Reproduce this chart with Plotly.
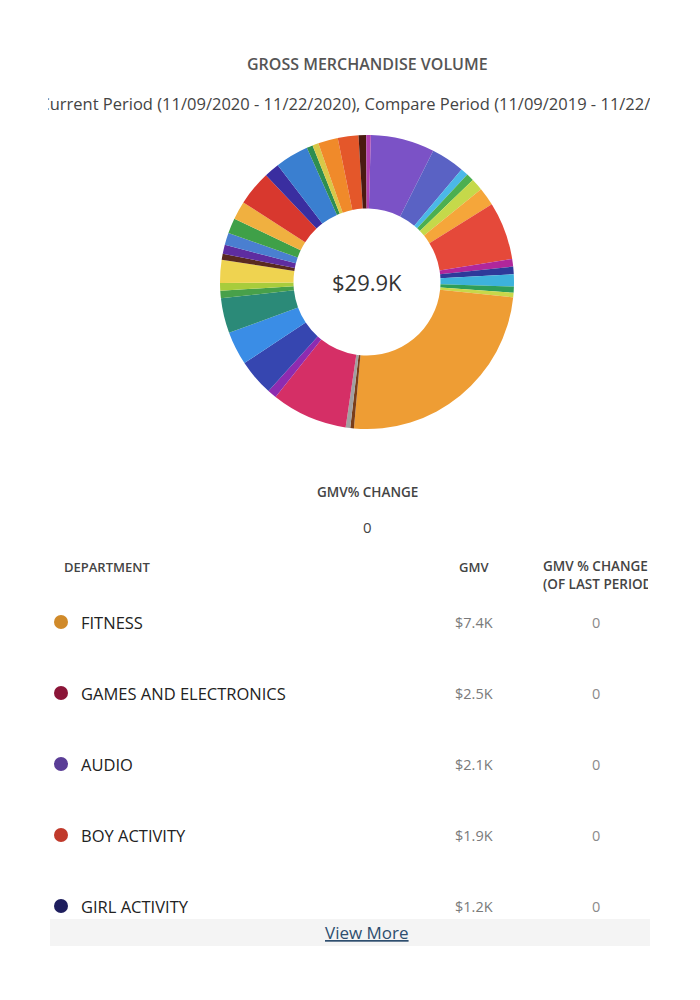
import plotly.graph_objects as go

# ---------------- data ----------------
TITLE = "GROSS MERCHANDISE VOLUME"
SUBTITLE = "Current Period (11/09/2020 - 11/22/2020), Compare Period (11/09/2019 - 11/22/2019)"
TOTAL_LABEL = "$29.9K"
CHANGE_LABEL = "GMV% CHANGE"
CHANGE_VALUE = "0"

# donut slices in clockwise order (values in $K)
slice_labels = [
    "AUDIO", "Other 1", "Other 2", "Other 3", "Other 4", "Other 5",
    "BOY ACTIVITY", "Other 6", "Other 7", "Other 8", "Other 9", "Other 10",
    "FITNESS", "Other 11", "Other 12", "GAMES AND ELECTRONICS", "Other 13",
    "GIRL ACTIVITY", "Other 14", "Other 15", "Other 16", "Other 17", "Other 18",
    "Other 19", "Other 20", "Other 21", "Other 22", "Other 23", "Other 24",
    "Other 25", "Other 26", "Other 27", "Other 28", "Other 29", "Other 30",
    "Other 31", "Other 32",
]
slice_values = [
    2.1, 1.1, 0.25, 0.25, 0.4, 0.6,
    1.9, 0.25, 0.25, 0.4, 0.2, 0.15,
    7.4, 0.12, 0.15, 2.5, 0.3,
    1.2, 1.1, 1.15, 0.25, 0.25, 0.75,
    0.2, 0.3, 0.4, 0.5, 0.6, 1.15,
    0.5, 1.1, 0.2, 0.2, 0.65, 0.68,
    0.25, 0.15,
]
slice_colors = [
    "#7B52C6", "#5A62C4", "#4BB8E8", "#4CAF50", "#C5D94A", "#F5A63A",
    "#E5493A", "#B0279B", "#2E3A9A", "#3DB2DC", "#2E9E5A", "#C8D84A",
    "#EE9D34", "#7A3E1A", "#A0A0A0", "#D52F66", "#8E2BB0",
    "#3646B0", "#3A8DE6", "#2B8A78", "#48A04A", "#A8CC3C", "#EFD350",
    "#5A2A20", "#5E2DA0", "#4A7FD0", "#3FA048", "#F0B040", "#D8382E",
    "#3A2EA0", "#3A7FD0", "#2E8E50", "#D8C848", "#F08A2A", "#E4572A",
    "#4A1A10", "#B040B0",
]

# table
table_headers = ["DEPARTMENT", "GMV", "GMV % CHANGE<br>(OF LAST PERIOD)"]
departments = ["FITNESS", "GAMES AND ELECTRONICS", "AUDIO", "BOY ACTIVITY", "GIRL ACTIVITY"]
dept_gmv = ["$7.4K", "$2.5K", "$2.1K", "$1.9K", "$1.2K"]
dept_change = ["0", "0", "0", "0", "0"]
dept_colors = ["#D08A2A", "#8B1538", "#5A3D96", "#C0392B", "#1E1E5E"]
VIEW_MORE = "View More"

# ---------------- layout constants (pixels) ----------------
W, H = 700, 1000
CX, CY, R = 367, 282, 147
ROW_Y0, ROW_STEP = 622, 71
FONT = "Open Sans"

fig = go.Figure()

fig.add_trace(go.Pie(
    labels=slice_labels,
    values=slice_values,
    marker=dict(colors=slice_colors, line=dict(width=0)),
    sort=False,
    direction="clockwise",
    rotation=1.5,
    hole=0.5,
    textinfo="none",
    hoverinfo="label+value",
    showlegend=False,
    domain=dict(x=[(CX - R) / W, (CX + R) / W], y=[1 - (CY + R) / H, 1 - (CY - R) / H]),
))

row_y = [ROW_Y0 + ROW_STEP * i for i in range(len(departments))]

fig.add_trace(go.Scatter(
    x=[61] * len(departments),
    y=row_y,
    mode="markers",
    marker=dict(size=14, color=dept_colors, line=dict(width=0)),
    hoverinfo="skip",
    showlegend=False,
))

ann = []
ann.append(dict(x=367, y=64, text=TITLE, showarrow=False,
                font=dict(family=FONT, size=16, color="#555555", weight=600)))
ann.append(dict(x=349, y=103, text="\u00a0" * 8 + SUBTITLE, showarrow=False, width=602,
                align="center", font=dict(family=FONT, size=16.5, color="#444444")))
ann.append(dict(x=CX, y=CY, text=TOTAL_LABEL, showarrow=False,
                font=dict(family=FONT, size=22, color="#333333")))
ann.append(dict(x=367, y=492, text=CHANGE_LABEL, showarrow=False,
                font=dict(family=FONT, size=13.5, color="#444444", weight=600)))
ann.append(dict(x=367, y=527, text=CHANGE_VALUE, showarrow=False,
                font=dict(family=FONT, size=15, color="#444444")))
# headers
ann.append(dict(x=62, y=567, text=table_headers[0], xanchor="left", showarrow=False,
                font=dict(family=FONT, size=13, color="#444444", weight=600)))
ann.append(dict(x=474, y=567, text=table_headers[1], showarrow=False,
                font=dict(family=FONT, size=13, color="#444444", weight=600)))
ann.append(dict(x=541, y=575, text=table_headers[2], xanchor="left", align="left",
                width=105, showarrow=False,
                font=dict(family=FONT, size=13.5, color="#444444", weight=600)))
for i, d in enumerate(departments):
    ann.append(dict(x=79, y=row_y[i], text=d, xanchor="left", showarrow=False,
                    font=dict(family=FONT, size=16.5, color="#222222")))
    ann.append(dict(x=474, y=row_y[i], text=dept_gmv[i], showarrow=False,
                    font=dict(family=FONT, size=14.5, color="#7A7A7A")))
    ann.append(dict(x=596, y=row_y[i], text=dept_change[i], showarrow=False,
                    font=dict(family=FONT, size=14.5, color="#8A8A8A")))
ann.append(dict(x=367, y=932, text="<u>" + VIEW_MORE + "</u>", showarrow=False,
                font=dict(family=FONT, size=17, color="#2E4E6E")))
for a in ann:
    a.setdefault("xref", "x")
    a.setdefault("yref", "y")

fig.update_layout(
    width=W, height=H,
    margin=dict(l=0, r=0, t=0, b=0),
    paper_bgcolor="white", plot_bgcolor="white",
    xaxis=dict(range=[0, W], visible=False, domain=[0, 1], fixedrange=True),
    yaxis=dict(range=[H, 0], visible=False, domain=[0, 1], fixedrange=True),
    shapes=[dict(type="rect", xref="x", yref="y", x0=50, x1=650, y0=919, y1=946,
                 fillcolor="#F4F4F4", line=dict(width=0), layer="below")],
    annotations=ann,
)

fig.write_html("out.html")
